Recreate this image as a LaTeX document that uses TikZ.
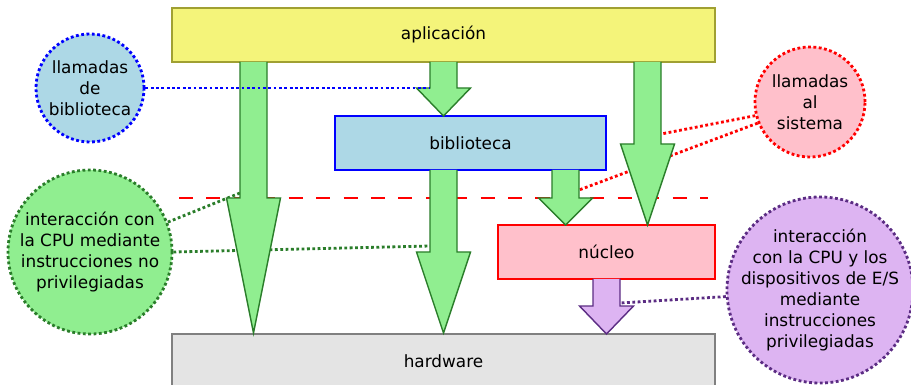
\documentclass[tikz,border=0pt]{standalone}
\usepackage{fontspec}
\setmainfont{DejaVu Sans}

\definecolor{amarillo}{HTML}{F4F47A}
\definecolor{oliva}{HTML}{A0A032}
\definecolor{verdeclaro}{HTML}{90EE90}
\definecolor{verdeosc}{HTML}{2A7D2A}
\definecolor{celeste}{HTML}{ADD8E6}
\definecolor{rosa}{HTML}{FFC0CB}
\definecolor{grisclaro}{HTML}{E4E4E4}
\definecolor{lila}{HTML}{DDB4F2}
\definecolor{morado}{HTML}{5B2C83}

\tikzstyle {caja} = [draw, line width=1pt, minimum height=1.35cm, align=center]
\tikzstyle {nota} = [circle, line width=2pt, dash pattern=on 2pt off 1.8pt, inner sep=0pt, align=center]
\tikzstyle {enlace} = [line width=2pt, dash pattern=on 2pt off 1.8pt]
\tikzstyle {flecha} = [fill=verdeclaro, draw=verdeosc, line width=1pt, line join=miter]

% flecha hacia abajo: estilo, x del eje, y inicial, y del cuello, y de la punta
\newcommand{\bajada}[5]{%
  \filldraw[#1] (#2-13.5,#3) -- (#2-13.5,#4) -- (#2-27,#4) -- (#2,#5)
    -- (#2+27,#4) -- (#2+13.5,#4) -- (#2+13.5,#3);}

\begin{document}
\begin{tikzpicture}[x=0.025cm, y=-0.025cm, font=\fontsize{12}{15}\selectfont]
  \useasboundingbox (0,0) rectangle (911,385);

  \node [caja, fill=amarillo, draw=oliva, minimum width=13.575cm] (app) at (443.5,35) {aplicación};
  \node [caja, fill=celeste, draw=blue, minimum width=6.775cm] (bib) at (470.5,143) {biblioteca};
  \node [caja, fill=rosa, draw=red, minimum width=5.425cm] (nuc) at (606.5,252) {núcleo};
  \node [caja, fill=grisclaro, draw=gray, line width=1.3pt, minimum width=13.575cm] (hw) at (443.5,361) {hardware};

  \node [nota, fill=celeste, draw=blue, minimum size=2.7cm] (llb) at (90,88) {llamadas\\de\\biblioteca};
  \node [nota, fill=rosa, draw=red, minimum size=2.75cm] (lls) at (810,102) {llamadas\\al\\sistema};
  \node [nota, fill=verdeclaro, draw=verdeosc, minimum size=4.1cm] (inp) at (90,252)
    {interacción con\\la CPU mediante\\instrucciones no\\privilegiadas};
  \node [nota, fill=lila, draw=morado, minimum size=4.65cm,
    label={[align=center]center:{interacción\\con la CPU y los\\dispositivos de E/S\\mediante\\instrucciones\\privilegiadas}}]
    (ipr) at (820,290) {};

  \coordinate (a1) at (430,88);
  \coordinate (a2) at (240,193);
  \coordinate (a3) at (430,246);
  \coordinate (a4) at (661,134);
  \coordinate (a5) at (579,190);
  \coordinate (a6) at (620,303);
  \coordinate (mi) at (179,198);
  \coordinate (md) at (708,198);

  \draw [red, line width=2pt, dash pattern=on 10pt off 9.5pt] (mi) -- (md);
  \draw [enlace, verdeosc] (inp.21) -- (a2);
  \draw [enlace, verdeosc] (inp.east) -- (a3);
  \draw [enlace, red] (lls.194) -- (a4);
  \draw [enlace, red] (lls.202) -- (a5);

  \bajada{flecha}{253.5}{62}{198}{333}
  \bajada{flecha}{443.5}{62}{88}{116}
  \bajada{flecha}{443.5}{170}{252}{333}
  \bajada{flecha}{647.5}{62}{144}{225}
  \bajada{flecha}{565.5}{170}{198}{225}
  \bajada{flecha, fill=lila, draw=morado}{606.5}{279}{306}{334}

  \draw [enlace, blue] (llb.east) -- (a1);
  \draw [enlace, morado] (ipr.184) -- (a6);
\end{tikzpicture}
\end{document}
